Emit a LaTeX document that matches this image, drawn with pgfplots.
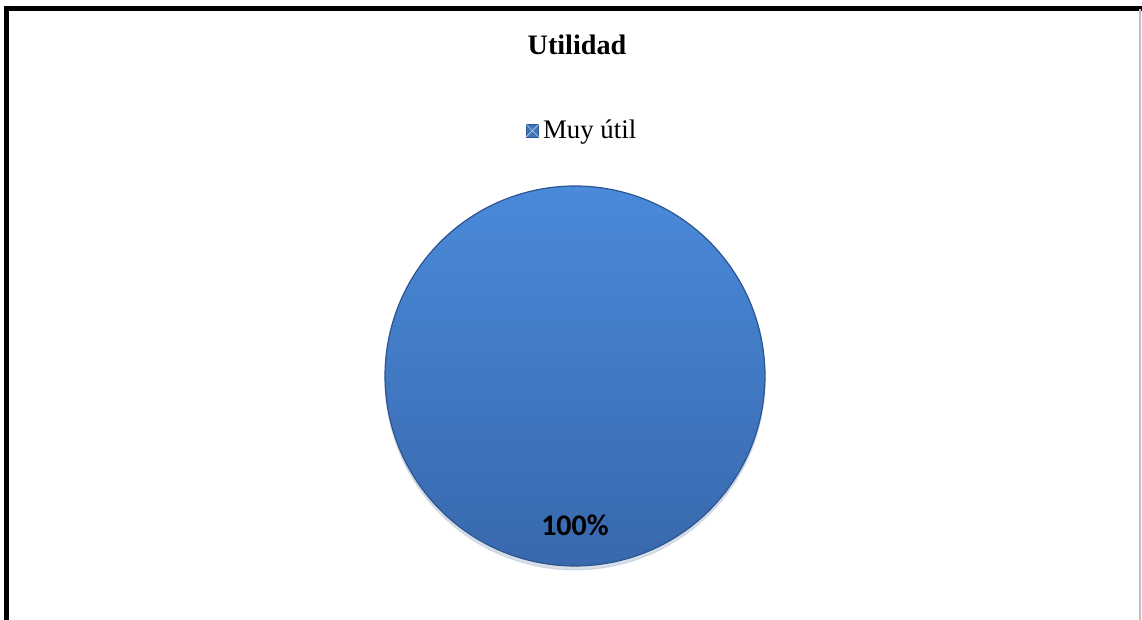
\documentclass[border=0pt]{standalone}
\usepackage{pgfplots}
\pgfplotsset{compat=1.18}
\usepackage{fontspec}
\setmainfont{Liberation Serif}
\newfontfamily\calibri{Carlito}
\usetikzlibrary{shadows}
\definecolor{pietop}{RGB}{74,138,218}
\definecolor{piebot}{RGB}{56,104,172}
\definecolor{pieedge}{RGB}{45,85,145}
% data: share of answers (percent)
\def\valMuyUtil{100}
\begin{document}
\begin{tikzpicture}
\begin{axis}[
  scale only axis, width=571pt, height=310pt,
  xmin=0, xmax=1142, ymin=0, ymax=620,
  axis lines=none, clip=false,
  legend style={at={(axis cs:583,489)}, anchor=center, draw=none, fill=none,
    font=\fontsize{13.4pt}{15pt}\selectfont, inner sep=0pt,
    legend cell align=left},
]
% full pie: one slice of \valMuyUtil percent, centre (575,244), radius 190
\addplot[forget plot, draw=pieedge, line width=0.6pt, top color=pietop, bottom color=piebot,
  domain=0:3.6*\valMuyUtil, samples=181, variable=\t,
  drop shadow={opacity=0.12, shadow xshift=0pt, shadow yshift=-2pt}]
  ({575+190*sin(\t)}, {244+190*cos(\t)}) -- cycle;
\addlegendimage{legend image code/.code={%
    \draw[fill=pietop!85!black, draw=pieedge, line width=0.4pt] (0pt,-3pt) rectangle (6.3pt,3.3pt);
    \draw[draw=white!60!pietop, line width=0.3pt] (0pt,-3pt) -- (6.3pt,3.3pt) (0pt,3.3pt) -- (6.3pt,-3pt);}}
\addlegendentry{Muy útil}
\node[font=\fontsize{14.1pt}{16pt}\selectfont\bfseries] at (axis cs:577,575) {Utilidad};
\node[font=\fontsize{15pt}{17pt}\selectfont\calibri\bfseries] at (axis cs:575,95) {\valMuyUtil\%};
% chart frame
\draw[line width=2.5pt, black] (axis cs:6.5,0) -- (axis cs:6.5,611.5) -- (axis cs:1142,611.5);
\draw[line width=1pt, black!25] (axis cs:1140,611) -- (axis cs:1140,0);
\end{axis}
\pgfresetboundingbox
\path (current axis.south west) rectangle (current axis.north east);
\end{tikzpicture}
\end{document}
